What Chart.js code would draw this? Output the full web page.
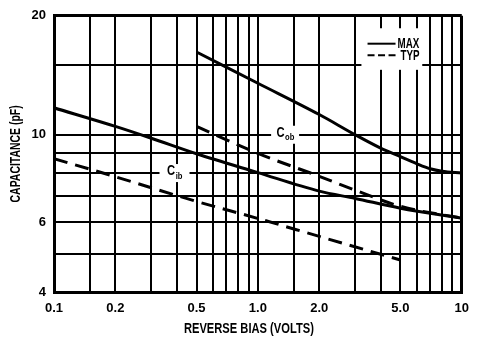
<!DOCTYPE html>
<html>
<head>
<meta charset="utf-8">
<script src="https://cdn.jsdelivr.net/npm/chart.js@4.4.1/dist/chart.umd.min.js"></script>
<style>
html,body{margin:0;padding:0;background:#fff;}
#wrap{width:478px;height:337px;position:relative;}
</style>
</head>
<body>
<div id="wrap"><canvas id="c" width="478" height="337"></canvas></div>
<script>
// ---- data ----
const cibMaxVolts = [0.1, 0.2, 0.3, 0.5, 1, 2, 3, 5, 10];
const cibMaxPf    = [11.7, 10.5, 9.8, 8.95, 8.02, 7.2, 6.9, 6.52, 6.15];
const cibTypVolts = [0.1, 0.2, 0.5, 1, 2, 5];
const cibTypPf    = [8.7, 7.83, 6.78, 6.14, 5.53, 4.82];
const cobMaxVolts = [0.5, 1, 2, 3, 4, 5, 6, 7, 8, 10];
const cobMaxPf    = [16.2, 13.5, 11.25, 10.0, 9.25, 8.8, 8.45, 8.2, 8.08, 8.0];
const cobTypVolts = [0.5, 1, 2, 3, 5, 10];
const cobTypPf    = [10.5, 8.97, 7.85, 7.24, 6.59, 6.15];

const xGrid = [0.1,0.15,0.2,0.3,0.4,0.5,0.6,0.7,0.8,0.9,1,1.5,2,3,4,5,6,7,8,9,10];
const yGrid = [4,5,6,7,8,9,10,15,20];
const xLabelValues = [0.1,0.2,0.5,1,2,5,10];
const xLabelTexts  = ['0.1','0.2','0.5','1.0','2.0','5.0','10'];
const yLabelValues = [4,6,10,20];
const yLabelTexts  = ['4','6','10','20'];

const xTitle = 'REVERSE BIAS (VOLTS)';
const yTitle = 'CAPACITANCE (pF)';
const legendNames = ['MAX','TYP'];

// ---- build ----
const pts = (xs, ys) => xs.map((x,i)=>({x:x, y:ys[i]}));
const DASH = [14,8];
const LW = 3;
const sans = "'Liberation Sans', Arial, sans-serif";

function ds(label, xs, ys, dashed){
  return {label, data: pts(xs,ys), borderColor:'#000', borderWidth: LW,
    borderDash: dashed?DASH:[], pointRadius:0, fill:false,
    cubicInterpolationMode:'monotone', borderCapStyle:'butt'};
}

// draw condensed text: font size px, horizontal squeeze sx
function narrowText(ctx, text, x, y, size, sx, align){
  ctx.save();
  ctx.font = 'bold ' + size + 'px ' + sans;
  ctx.textBaseline = 'middle';
  const w = ctx.measureText(text).width * sx;
  let start = x;
  if (align === 'center') start = x - w/2;
  else if (align === 'right') start = x - w;
  ctx.translate(start, y);
  ctx.scale(sx, 1);
  ctx.textAlign = 'left';
  ctx.fillText(text, 0, 0);
  ctx.restore();
  return w;
}

const annot = {
  id:'annot',
  beforeDatasetsDraw(chart){
    const {ctx, scales:{x,y}} = chart;
    ctx.save();
    ctx.fillStyle = '#fff';
    const boxes = [
      [1.36, 10, 28, 18],   // Cob
      [0.39, 8, 30, 18],    // Cib
    ];
    boxes.forEach(([vx,vy,w,h])=>{
      const px = x.getPixelForValue(vx), py = y.getPixelForValue(vy);
      ctx.fillRect(px - w/2, py - h/2, w, h);
    });
    const lx0 = x.getPixelForValue(3.22), lx1 = x.getPixelForValue(6.4);
    const ly0 = y.getPixelForValue(18.6), ly1 = y.getPixelForValue(14.6);
    ctx.fillRect(lx0, ly0, lx1-lx0, ly1-ly0);
    ctx.restore();
  },
  afterDatasetsDraw(chart){
    const {ctx, scales:{x,y}} = chart;
    ctx.save();
    ctx.fillStyle = '#000';
    function cLabel(vx, vy, sub){
      const px = x.getPixelForValue(vx), py = y.getPixelForValue(vy);
      ctx.font = 'bold 14px ' + sans;
      const w1 = ctx.measureText('C').width * 0.8;
      ctx.font = 'bold 9px ' + sans;
      const w2 = ctx.measureText(sub).width * 0.85;
      const start = px - (w1 + w2)/2;
      narrowText(ctx, 'C', start, py - 2, 14, 0.8, 'left');
      narrowText(ctx, sub, start + w1 + 0.5, py + 3, 9, 0.85, 'left');
    }
    cLabel(1.36, 10, 'ob');
    cLabel(0.39, 8, 'ib');
    // legend
    const lx0 = x.getPixelForValue(3.45);
    const lx1 = lx0 + 28;
    const yMax = y.getPixelForValue(17.0), yTyp = y.getPixelForValue(15.9);
    ctx.strokeStyle = '#000';
    ctx.lineWidth = 2;
    ctx.beginPath(); ctx.moveTo(lx0, yMax); ctx.lineTo(lx1, yMax); ctx.stroke();
    ctx.setLineDash([7,3.5]);
    ctx.beginPath(); ctx.moveTo(lx0, yTyp); ctx.lineTo(lx1, yTyp); ctx.stroke();
    ctx.setLineDash([]);
    narrowText(ctx, legendNames[0], lx1 + 2, yMax, 14, 0.7, 'left');
    narrowText(ctx, legendNames[1], lx1 + 5, yTyp + 1, 14, 0.7, 'left');
    ctx.restore();
  },
  afterDraw(chart){
    const {ctx, chartArea} = chart;
    ctx.save();
    ctx.fillStyle = '#000';
    // x title
    narrowText(ctx, xTitle, chartArea.left + (chartArea.right - chartArea.left) * 0.478, 329, 15.5, 0.72, 'center');
    // y title (rotated)
    ctx.translate(15.5, (chartArea.top + chartArea.bottom) / 2);
    ctx.rotate(-Math.PI/2);
    narrowText(ctx, yTitle, 0, 0, 14.5, 0.72, 'center');
    ctx.restore();
  }
};

new Chart(document.getElementById('c'), {
  type:'line',
  data:{ datasets:[
    ds('Cib MAX', cibMaxVolts, cibMaxPf, false),
    ds('Cib TYP', cibTypVolts, cibTypPf, true),
    ds('Cob MAX', cobMaxVolts, cobMaxPf, false),
    ds('Cob TYP', cobTypVolts, cobTypPf, true),
  ]},
  options:{
    responsive:false, animation:false, devicePixelRatio:1,
    layout:{padding:{top:15, right:12, left:0, bottom:0}},
    plugins:{legend:{display:false}, tooltip:{enabled:false}},
    scales:{
      x:{
        type:'logarithmic', min:0.1, max:10,
        afterBuildTicks: s => { s.ticks = xGrid.map(v=>({value:v})); },
        afterFit: s => { s.height = 45; },
        ticks:{autoSkip:false, maxRotation:0, minRotation:0, padding:9, color:'#000',
          font:{family:sans, size:13, weight:'bold'},
          callback: v => { const i = xLabelValues.indexOf(v); return i>=0 ? xLabelTexts[i] : ''; }},
        grid:{color:'#000', drawTicks:false, lineWidth: c => (c.tick && c.tick.value===10) ? 3 : 2},
        border:{color:'#000', width:3},
        title:{display:false}
      },
      y:{
        type:'logarithmic', min:4, max:20,
        afterBuildTicks: s => { s.ticks = yGrid.map(v=>({value:v})); },
        afterFit: s => { s.width = 54; },
        ticks:{autoSkip:false, padding:8, color:'#000',
          font:{family:sans, size:13, weight:'bold'},
          callback: v => { const i = yLabelValues.indexOf(v); return i>=0 ? yLabelTexts[i] : ''; }},
        grid:{color:'#000', drawTicks:false, lineWidth: c => (c.tick && c.tick.value===20) ? 3 : 2},
        border:{color:'#000', width:3},
        title:{display:false}
      }
    }
  },
  plugins:[annot]
});
</script>
</body>
</html>
